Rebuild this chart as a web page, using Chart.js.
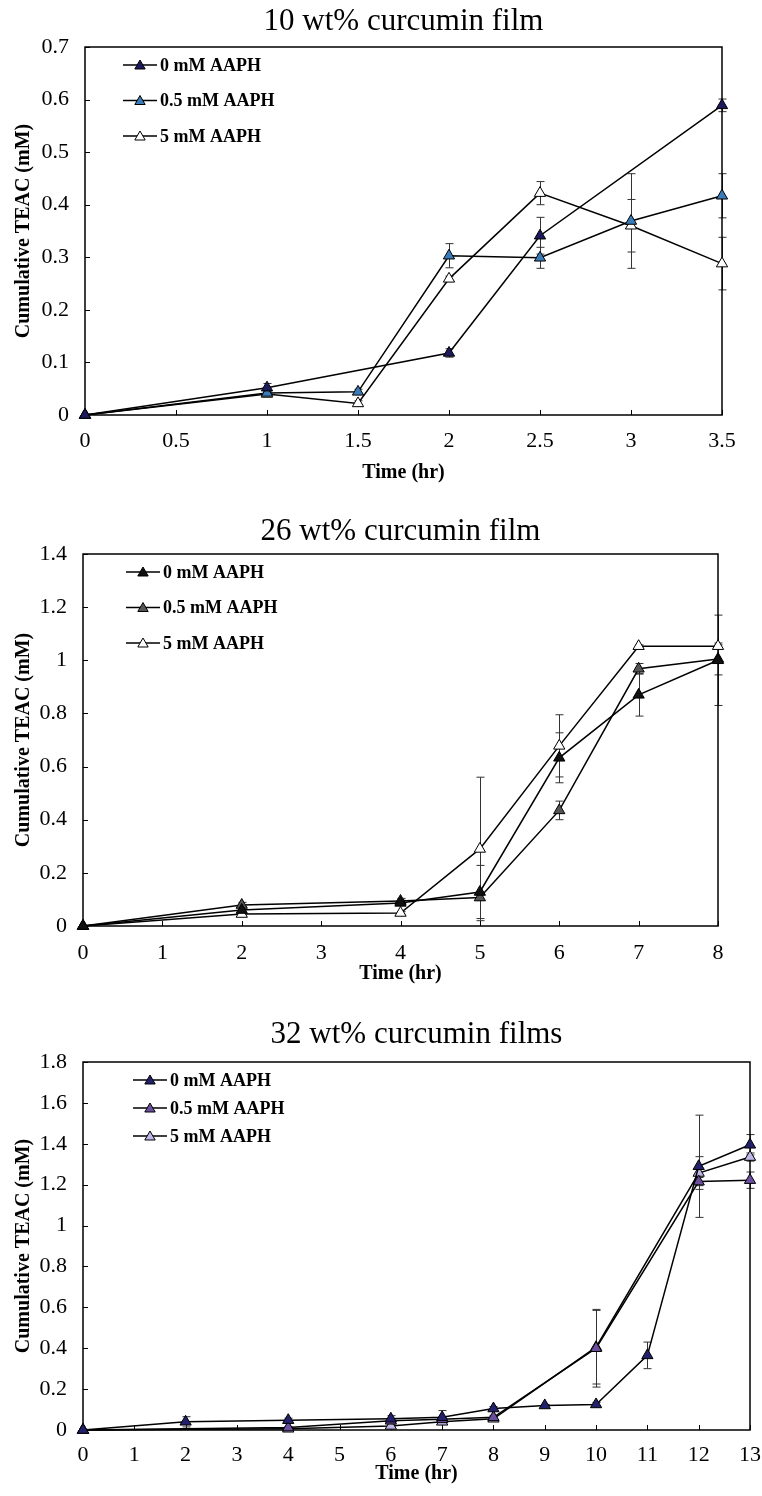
<!DOCTYPE html>
<html>
<head>
<title>Cumulative TEAC</title>
<script src="https://cdn.jsdelivr.net/npm/chart.js"></script>
<style>
  body { margin: 0; background: #fff; }
  canvas { position: absolute; left: 0; }
</style>
</head>
<body>
<canvas id="c1" width="762" height="490" style="top:0px"></canvas>
<canvas id="c2" width="762" height="500" style="top:490px"></canvas>
<canvas id="c3" width="762" height="506" style="top:990px"></canvas>

<script>
// series names
var seriesLabels = ['0 mM AAPH', '0.5 mM AAPH', '5 mM AAPH'];

// 10 wt% curcumin film
var xTicks1 = [0, 0.5, 1, 1.5, 2, 2.5, 3, 3.5];
var yTicks1 = [0, 0.1, 0.2, 0.3, 0.4, 0.5, 0.6, 0.7];
var time1a = [0, 1, 2, 2.5, 3.5];
var teac1a = [0, 0.052, 0.118, 0.341, 0.589];
var err1a  = [0, 0.008, 0.008, 0.035, 0.012];
var time1b = [0, 1, 1.5, 2, 2.5, 3, 3.5];
var teac1b = [0, 0.042, 0.044, 0.303, 0.299, 0.369, 0.417];
var err1b  = [0, 0.005, 0.005, 0.023, 0.02, 0.09, 0.042];
var time1c = [0, 1, 1.5, 2, 2.5, 3, 3.5];
var teac1c = [0, 0.04, 0.022, 0.259, 0.422, 0.36, 0.288];
var err1c  = [0, 0.005, 0.005, 0.005, 0.022, 0.05, 0.05];

// 26 wt% curcumin film
var xTicks2 = [0, 1, 2, 3, 4, 5, 6, 7, 8];
var yTicks2 = [0, 0.2, 0.4, 0.6, 0.8, 1, 1.2, 1.4];
var time2a = [0, 2, 4, 5, 6, 7, 8];
var teac2a = [0, 0.06, 0.087, 0.128, 0.633, 0.87, 1.0];
var err2a  = [0, 0.01, 0.01, 0.1, 0.094, 0.08, 0.17];
var time2b = [0, 2, 4, 5, 6, 7, 8];
var teac2b = [0, 0.079, 0.094, 0.107, 0.435, 0.968, 1.005];
var err2b  = [0, 0.01, 0.01, 0.01, 0.035, 0.02, 0.06];
var time2c = [0, 2, 4, 5, 6, 7, 8];
var teac2c = [0, 0.045, 0.049, 0.29, 0.678, 1.053, 1.053];
var err2c  = [0, 0.005, 0.005, 0.27, 0.117, 0.005, 0.005];

// 32 wt% curcumin films
var xTicks3 = [0, 1, 2, 3, 4, 5, 6, 7, 8, 9, 10, 11, 12, 13];
var yTicks3 = [0, 0.2, 0.4, 0.6, 0.8, 1, 1.2, 1.4, 1.6, 1.8];
var time3a = [0, 2, 4, 6, 7, 8, 9, 10, 11, 12, 13];
var teac3a = [0, 0.04, 0.048, 0.055, 0.062, 0.105, 0.12, 0.125, 0.365, 1.29, 1.395];
var err3a  = [0, 0.025, 0.01, 0.015, 0.033, 0.01, 0.005, 0.01, 0.065, 0.25, 0.05];
var time3b = [0, 4, 6, 7, 8, 10, 12, 13];
var teac3b = [0, 0.012, 0.045, 0.052, 0.062, 0.40, 1.215, 1.222];
var err3b  = [0, 0.005, 0.01, 0.01, 0.01, 0.19, 0.02, 0.04];
var time3c = [0, 4, 6, 7, 8, 10, 12, 13];
var teac3c = [0, 0.006, 0.02, 0.04, 0.055, 0.405, 1.257, 1.335];
var err3c  = [0, 0.005, 0.005, 0.01, 0.01, 0.18, 0.08, 0.02];

var serif = '"Liberation Serif", "Times New Roman", serif';

// frame, inward ticks, error bars and the line+triangle legend
var extras = {
  id: 'extras',
  beforeDatasetsDraw: function (chart) {
    var ctx = chart.ctx, a = chart.chartArea;
    var xs = chart.scales.x, ys = chart.scales.y;
    ctx.save();
    ctx.strokeStyle = '#000';
    ctx.lineWidth = 1;
    ctx.beginPath();
    xs.ticks.forEach(function (t) {
      var px = Math.round(xs.getPixelForValue(t.value)) + 0.5;
      ctx.moveTo(px, a.bottom);
      ctx.lineTo(px, a.bottom - 5);
    });
    ys.ticks.forEach(function (t) {
      var py = Math.round(ys.getPixelForValue(t.value)) + 0.5;
      ctx.moveTo(a.left, py);
      ctx.lineTo(a.left + 5, py);
    });
    ctx.stroke();

    ctx.strokeStyle = '#333';
    chart.data.datasets.forEach(function (ds) {
      ds.data.forEach(function (p, i) {
        var e = ds.errors[i];
        if (!e) return;
        var px = Math.round(xs.getPixelForValue(p.x)) + 0.5;
        var top = ys.getPixelForValue(p.y + e);
        var bot = ys.getPixelForValue(p.y - e);
        ctx.beginPath();
        ctx.moveTo(px, top); ctx.lineTo(px, bot);
        ctx.moveTo(px - 4, top); ctx.lineTo(px + 4, top);
        ctx.moveTo(px - 4, bot); ctx.lineTo(px + 4, bot);
        ctx.stroke();
      });
    });

    ctx.strokeStyle = '#000';
    ctx.lineWidth = 1.5;
    ctx.strokeRect(a.left, a.top, a.right - a.left, a.bottom - a.top);
    ctx.restore();
  },
  afterDraw: function (chart) {
    var o = chart.options.plugins.extras;
    var ctx = chart.ctx, a = chart.chartArea;
    ctx.save();
    chart.data.datasets.forEach(function (ds, i) {
      var y = a.top + o.top + i * o.gap;
      var x0 = a.left + o.left;
      ctx.strokeStyle = '#000';
      ctx.lineWidth = 1.5;
      ctx.beginPath();
      ctx.moveTo(x0, y);
      ctx.lineTo(x0 + 34, y);
      ctx.stroke();
      ctx.fillStyle = ds.pointBackgroundColor;
      ctx.lineWidth = 1;
      Chart.helpers.drawPoint(ctx, { pointStyle: 'triangle', radius: 6, rotation: 0, borderWidth: 1 }, x0 + 17, y + 1);
      ctx.fillStyle = '#000';
      ctx.font = 'bold 18px ' + serif;
      ctx.textAlign = 'left';
      ctx.textBaseline = 'middle';
      ctx.fillText(ds.label, x0 + 37, y + 1);
    });
    ctx.restore();
  }
};

function makeChart(id, c) {
  var datasets = c.series.map(function (s, k) {
    return {
      label: seriesLabels[k],
      data: s.t.map(function (t, i) { return { x: t, y: s.v[i] }; }),
      errors: s.e,
      borderColor: '#000',
      borderWidth: 1.5,
      pointStyle: 'triangle',
      pointRadius: 6.5,
      pointHoverRadius: 6.5,
      pointBackgroundColor: s.color,
      pointBorderColor: '#000',
      pointBorderWidth: 1,
      clip: false
    };
  });

  return new Chart(document.getElementById(id), {
    type: 'line',
    data: { datasets: datasets },
    options: {
      responsive: false,
      animation: false,
      events: [],
      layout: { padding: { left: 0, right: 762 - c.right, top: 0, bottom: 0 } },
      plugins: {
        legend: { display: false },
        tooltip: { enabled: false },
        title: {
          display: true,
          text: c.title,
          fullSize: false,
          color: '#000',
          font: { family: serif, size: 31, weight: 'normal' },
          padding: { top: c.titleTop, bottom: c.titleBottom }
        },
        extras: c.legend
      },
      scales: {
        x: {
          type: 'linear',
          min: c.xTicks[0],
          max: c.xTicks[c.xTicks.length - 1],
          afterBuildTicks: function (s) { s.ticks = c.xTicks.map(function (v) { return { value: v }; }); },
          afterFit: function (s) {
            s.height = c.xHeight;
            s.paddingLeft = 0;
            s.paddingRight = 0;
          },
          grid: { display: false, drawTicks: false },
          border: { display: false },
          ticks: {
            color: '#000',
            padding: c.xPad,
            maxRotation: 0,
            font: { family: serif, size: 22 },
            callback: function (v) { return String(v); }
          },
          title: {
            display: true,
            text: 'Time (hr)',
            color: '#000',
            font: { family: serif, size: 20, weight: 'bold' },
            padding: { top: 0, bottom: c.xTitlePad }
          }
        },
        y: {
          min: 0,
          max: c.yTicks[c.yTicks.length - 1],
          afterBuildTicks: function (s) { s.ticks = c.yTicks.map(function (v) { return { value: v }; }); },
          afterFit: function (s) { s.width = c.left; },
          grid: { display: false, drawTicks: false },
          border: { display: false },
          ticks: {
            color: '#000',
            padding: 16,
            font: { family: serif, size: 22 },
            callback: function (v) { return String(v); }
          },
          title: {
            display: true,
            text: 'Cumulative TEAC (mM)',
            color: '#000',
            font: { family: serif, size: 20, weight: 'bold' },
            padding: { top: 12, bottom: 0 }
          }
        }
      }
    },
    plugins: [extras]
  });
}

makeChart('c1', {
  title: '10 wt% curcumin film',
  titleTop: 3.4, titleBottom: 6.4,
  left: 85, right: 722, xHeight: 75, xPad: 12.8, xTitlePad: 5,
  xTicks: xTicks1, yTicks: yTicks1,
  legend: { left: 38, top: 18, gap: 35.5 },
  series: [
    { t: time1a, v: teac1a, e: err1a, color: '#1c1a5c' },
    { t: time1b, v: teac1b, e: err1b, color: '#3b7bb8' },
    { t: time1c, v: teac1c, e: err1c, color: '#ffffff' }
  ]
});

makeChart('c2', {
  title: '26 wt% curcumin film',
  titleTop: 23.4, titleBottom: 3.4,
  left: 83, right: 718, xHeight: 64, xPad: 14.5, xTitlePad: 4,
  xTicks: xTicks2, yTicks: yTicks2,
  legend: { left: 43, top: 18, gap: 35.5 },
  series: [
    { t: time2a, v: teac2a, e: err2a, color: '#111111' },
    { t: time2b, v: teac2b, e: err2b, color: '#555555' },
    { t: time2c, v: teac2c, e: err2c, color: '#ffffff' }
  ]
});

makeChart('c3', {
  title: '32 wt% curcumin films',
  titleTop: 26.4, titleBottom: 8.4,
  left: 83, right: 750, xHeight: 66, xPad: 12.5, xTitlePad: 10,
  xTicks: xTicks3, yTicks: yTicks3,
  legend: { left: 50, top: 18, gap: 28 },
  series: [
    { t: time3a, v: teac3a, e: err3a, color: '#23206b' },
    { t: time3b, v: teac3b, e: err3b, color: '#6b4e9e' },
    { t: time3c, v: teac3c, e: err3c, color: '#bfb7e8' }
  ]
});
</script>
</body>
</html>
